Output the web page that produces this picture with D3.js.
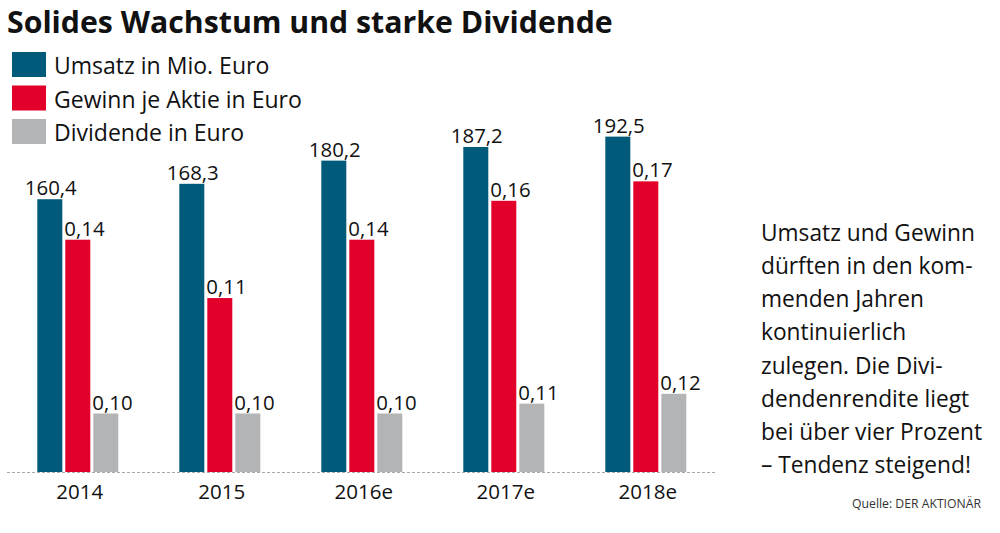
<!DOCTYPE html>
<html lang="de">
<head>
<meta charset="utf-8">
<title>Solides Wachstum und starke Dividende</title>
<script src="https://cdn.jsdelivr.net/npm/d3@7"></script>
<style>
	body{
		margin: 0px;
		overflow: hidden;
		background: #fff;
	}
	text{
		font-family: "Open Sans", "Noto Sans", sans-serif;
		fill: #111;
	}
	.title{
		font-weight: bold;
	}
</style>
</head>
<body>
<script>
	// data
	const years = ["2014", "2015", "2016e", "2017e", "2018e"];
	const umsatz = [160.4, 168.3, 180.2, 187.2, 192.5];
	const gewinn = [0.14, 0.11, 0.14, 0.16, 0.17];
	const dividende = [0.10, 0.10, 0.10, 0.11, 0.12];
	const seriesNames = ["Umsatz in Mio. Euro", "Gewinn je Aktie in Euro", "Dividende in Euro"];
	const noteLines = [
		"Umsatz und Gewinn",
		"dürften in den kom-",
		"menden Jahren",
		"kontinuierlich",
		"zulegen. Die Divi-",
		"dendenrendite liegt",
		"bei über vier Prozent",
		"– Tendenz steigend!"
	];

	const width = 1000;
	const height = 533;
	const colors = ["#005b7a", "#e2002b", "#b3b4b6"];
	const baseY = 472;
	const zeroY = 512; // bars are cut off at the baseline

	const svg = d3.select("body").append("svg")
		.attr("width", width)
		.attr("height", height);

	// scale font so the text gets a given width
	function fit(sel, target) {
		sel.each(function() {
			const size = parseFloat(d3.select(this).attr("font-size"));
			const w = this.getComputedTextLength();
			d3.select(this).attr("font-size", size * target / w);
		});
	}

	const xScale = d3.scaleBand()
		.domain(years)
		.range([37.3, 686.3])
		.paddingInner(61 / 142)
		.paddingOuter(0);

	const xInner = d3.scaleBand()
		.domain([0, 1, 2])
		.range([0, xScale.bandwidth()])
		.paddingInner(3 / 28);

	const yScales = [
		d3.scaleLinear().domain([0, 200]).range([zeroY, zeroY - 390]),
		d3.scaleLinear().domain([0, 0.2]).range([zeroY, zeroY - 389]),
		d3.scaleLinear().domain([0, 0.2]).range([zeroY, zeroY - 197])
	];
	const values = [umsatz, gewinn, dividende];
	const fmt = [d3.format(".1f"), d3.format(".2f"), d3.format(".2f")];

	// title
	svg.append("text")
		.attr("class", "title")
		.attr("x", 7)
		.attr("y", 33)
		.attr("font-size", 30)
		.text("Solides Wachstum und starke Dividende")
		.call(fit, 606);

	// legend
	const legend = svg.append("g");
	seriesNames.forEach((name, i) => {
		legend.append("rect")
			.attr("x", 12)
			.attr("y", 52 + i * 33.5)
			.attr("width", 34)
			.attr("height", 25)
			.attr("fill", colors[i]);
		legend.append("text")
			.attr("class", "leg" + i)
			.attr("x", 54)
			.attr("y", 74 + i * 33.5)
			.attr("font-size", 22)
			.text(name);
	});
	const leg1 = legend.select(".leg1");
	leg1.call(fit, 248);
	legend.selectAll("text").attr("font-size", leg1.attr("font-size"));

	// dashed baseline
	svg.append("line")
		.attr("x1", 7)
		.attr("x2", 717)
		.attr("y1", baseY + 0.5)
		.attr("y2", baseY + 0.5)
		.attr("stroke", "#a8a8a8")
		.attr("stroke-width", 1)
		.attr("stroke-dasharray", "3,2");

	// bars
	const groups = svg.selectAll(".year")
		.data(years)
		.enter()
		.append("g")
		.attr("class", "year")
		.attr("transform", d => `translate(${xScale(d)},0)`);

	values.forEach((vals, s) => {
		groups.append("rect")
			.attr("x", xInner(s))
			.attr("y", (d, i) => yScales[s](vals[i]))
			.attr("width", xInner.bandwidth())
			.attr("height", (d, i) => baseY - yScales[s](vals[i]))
			.attr("fill", colors[s]);

		groups.append("text")
			.attr("class", "value")
			.attr("x", s === 0 ? xInner(s) + xInner.bandwidth() / 2 + 1 : xInner(s) - 1)
			.attr("y", (d, i) => yScales[s](vals[i]) - 4)
			.attr("text-anchor", s === 0 ? "middle" : "start")
			.attr("font-size", 19)
			.text((d, i) => fmt[s](vals[i]).replace(".", ","));
	});

	// match label size
	const first = svg.select(".value");
	first.call(fit, 52);
	svg.selectAll(".value").attr("font-size", first.attr("font-size"));

	// year labels
	groups.append("text")
		.attr("class", "yr")
		.attr("x", xScale.bandwidth() / 2 + 2)
		.attr("y", 499)
		.attr("text-anchor", "middle")
		.attr("font-size", 19)
		.text(d => d);
	const firstYr = svg.select(".yr");
	firstYr.call(fit, 47);
	svg.selectAll(".yr").attr("font-size", firstYr.attr("font-size"));

	// note on the right
	const note = svg.append("g");
	note.selectAll("text")
		.data(noteLines)
		.enter()
		.append("text")
		.attr("x", 761)
		.attr("y", (d, i) => 241 + i * 33.15)
		.attr("font-size", 23)
		.text(d => d);
	const firstNote = note.select("text");
	firstNote.call(fit, 214);
	note.selectAll("text").attr("font-size", firstNote.attr("font-size"));

	// source
	svg.append("text")
		.attr("x", 981)
		.attr("y", 508)
		.attr("text-anchor", "end")
		.attr("font-size", 13)
		.style("fill", "#333")
		.text("Quelle: DER AKTIONÄR")
		.call(fit, 129);
</script>
</body>
</html>
